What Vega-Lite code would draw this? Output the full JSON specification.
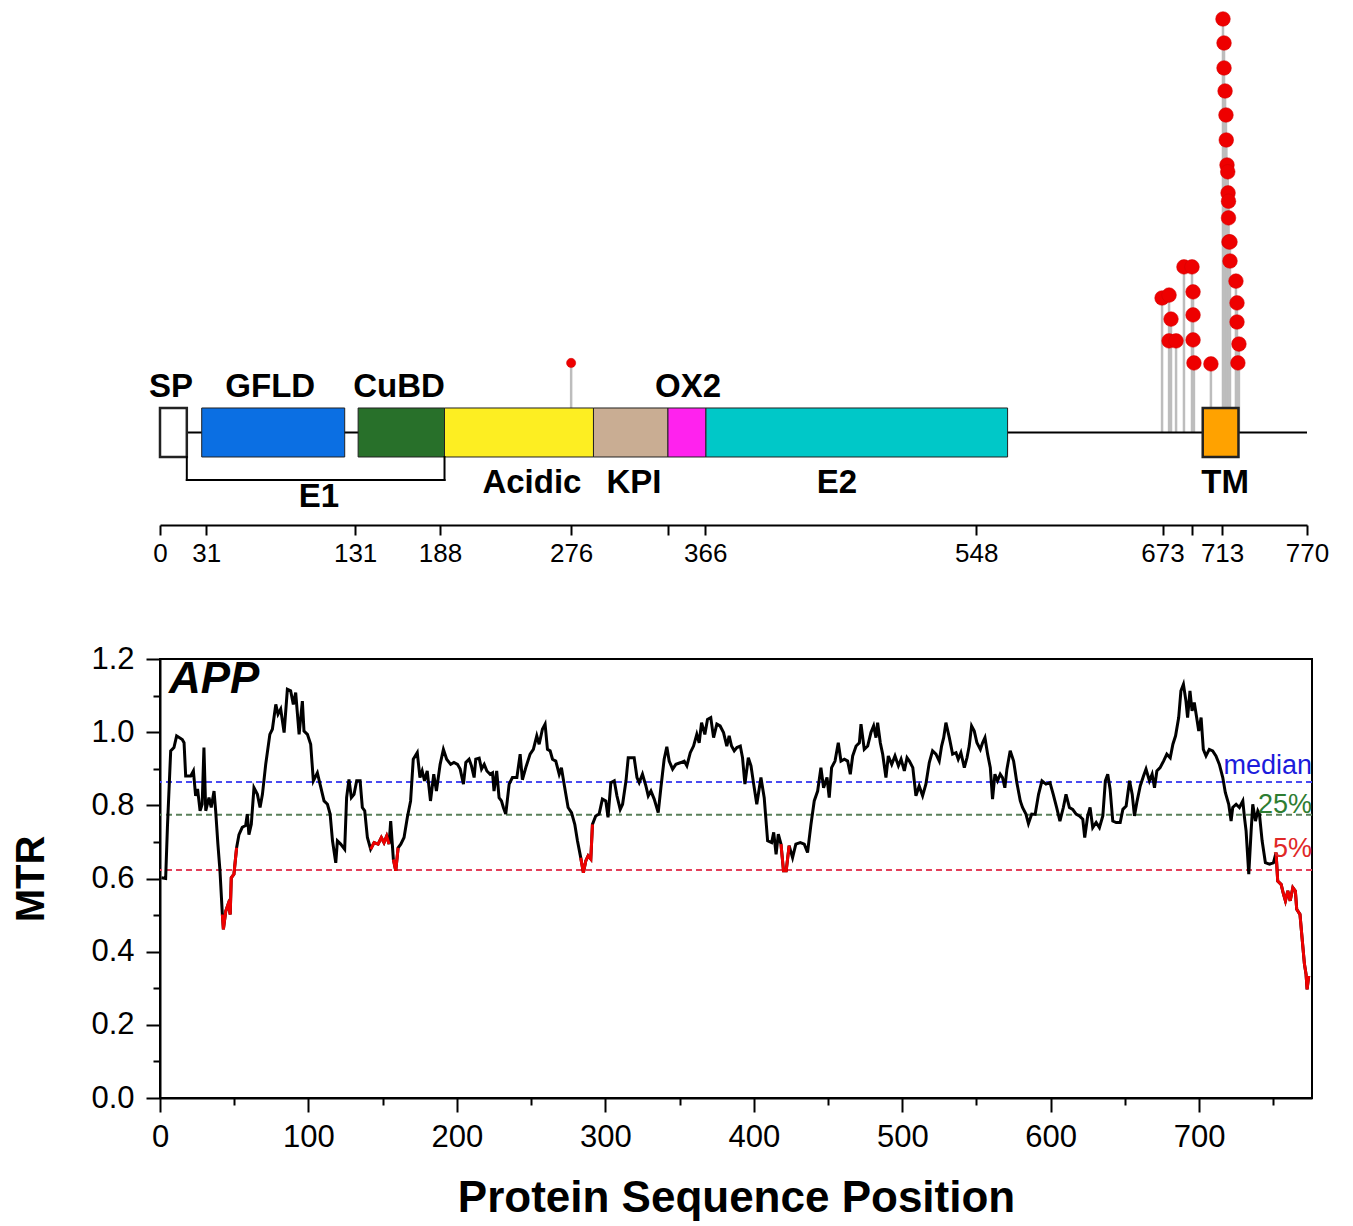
{
  "$schema": "https://vega.github.io/schema/vega-lite/v6.json",
  "background": "white",
  "padding": {"left": 10, "top": 5, "right": 5, "bottom": 5},
  "spacing": 76,
  "config": {
    "font": "Liberation Sans",
    "view": {"stroke": null},
    "axis": {"labelFont": "Liberation Sans", "titleFont": "Liberation Sans", "labelColor": "black", "titleColor": "black", "domainColor": "black", "tickColor": "black", "grid": false}
  },
  "datasets": {
    "domains": [
      {"name": "chain", "kind": "chain", "start": 0, "end": 770},
      {"name": "SP", "kind": "box", "start": 0, "end": 18, "lx": 7.4, "side": "above"},
      {"name": "GFLD", "kind": "box", "start": 28, "end": 124, "lx": 74, "side": "above"},
      {"name": "CuBD", "kind": "box", "start": 133, "end": 191, "lx": 160.5, "side": "above"},
      {"name": "Acidic", "kind": "box", "start": 191, "end": 291, "lx": 249.7, "side": "below"},
      {"name": "KPI", "kind": "box", "start": 291, "end": 341, "lx": 318.2, "side": "below"},
      {"name": "OX2", "kind": "box", "start": 341, "end": 366.5, "lx": 354.5, "side": "above"},
      {"name": "E2", "kind": "box", "start": 366.5, "end": 569, "lx": 454.5, "side": "below"},
      {"name": "TM", "kind": "box", "start": 700, "end": 724, "lx": 715, "side": "below"},
      {"name": "E1", "kind": "bracket", "start": 18, "end": 191, "lx": 106.7, "side": "bracket"}
    ],
    "variants": [
      {"pos": 276, "n": 1.0, "g": "a"},
      {"pos": 672.7, "n": 3.65, "g": "b"},
      {"pos": 677.4, "n": 3.77, "g": "b"},
      {"pos": 678.7, "n": 2.79, "g": "b"},
      {"pos": 677.4, "n": 1.9, "g": "b"},
      {"pos": 682.1, "n": 1.9, "g": "b"},
      {"pos": 687.4, "n": 4.92, "g": "b"},
      {"pos": 692.8, "n": 4.92, "g": "b"},
      {"pos": 693.5, "n": 3.9, "g": "b"},
      {"pos": 693.5, "n": 2.96, "g": "b"},
      {"pos": 693.5, "n": 1.94, "g": "b"},
      {"pos": 694.1, "n": 1.0, "g": "b"},
      {"pos": 705.5, "n": 0.96, "g": "b"},
      {"pos": 713.6, "n": 15.04, "g": "b"},
      {"pos": 714.3, "n": 14.06, "g": "b"},
      {"pos": 714.3, "n": 13.04, "g": "b"},
      {"pos": 715, "n": 12.1, "g": "b"},
      {"pos": 715.6, "n": 11.12, "g": "b"},
      {"pos": 715.8, "n": 10.1, "g": "b"},
      {"pos": 716.3, "n": 9.08, "g": "b"},
      {"pos": 716.8, "n": 8.8, "g": "b"},
      {"pos": 717, "n": 7.94, "g": "b"},
      {"pos": 717.3, "n": 7.6, "g": "b"},
      {"pos": 717.3, "n": 6.92, "g": "b"},
      {"pos": 717.6, "n": 5.94, "g": "b"},
      {"pos": 718.3, "n": 5.94, "g": "b"},
      {"pos": 718.3, "n": 5.16, "g": "b"},
      {"pos": 722.3, "n": 4.34, "g": "b"},
      {"pos": 723, "n": 3.45, "g": "b"},
      {"pos": 723, "n": 2.67, "g": "b"},
      {"pos": 724.3, "n": 1.77, "g": "b"},
      {"pos": 723.6, "n": 1.0, "g": "b"}
    ],
    "thresholds": [
      {"label": "median", "v": 0.864},
      {"label": "25%", "v": 0.774},
      {"label": "5%", "v": 0.623}
    ],
    "gene": [{"gene": "APP"}],
    "mtr": [
      {"p":1,"m":0.602,"s":0},{"p":3.8,"m":0.6,"s":0},{"p":5,"m":0.74,"s":0},{"p":7.2,"m":0.949,"s":0},{"p":9.4,"m":0.958,"s":0},{"p":11.2,"m":0.99,"s":0},{"p":15,"m":0.98,"s":0},{"p":16.2,"m":0.971,"s":0},{"p":17.3,"m":0.88,"s":0},{"p":20.7,"m":0.88,"s":0},{"p":22.5,"m":0.894,"s":0},{"p":24,"m":0.826,"s":0},{"p":25.3,"m":0.845,"s":0},{"p":27,"m":0.785,"s":0},{"p":28.4,"m":0.803,"s":0},{"p":29.6,"m":0.958,"s":0},{"p":30.8,"m":0.785,"s":0},{"p":33,"m":0.821,"s":0},{"p":34.5,"m":0.794,"s":0},{"p":36.4,"m":0.839,"s":0},{"p":37.5,"m":0.785,"s":0},{"p":39,"m":0.694,"s":0},{"p":40.4,"m":0.621,"s":0},
      {"p":42,"m":0.502,"s":1},{"p":42.7,"m":0.461,"s":1},{"p":44.3,"m":0.511,"s":1},{"p":45.9,"m":0.53,"s":1},{"p":47.3,"m":0.502,"s":1},{"p":48,"m":0.602,"s":1},{"p":49.8,"m":0.612,"s":1},{"p":51.6,"m":0.684,"s":1},
      {"p":53.2,"m":0.72,"s":0},{"p":55.4,"m":0.74,"s":0},{"p":57.7,"m":0.745,"s":0},{"p":58.8,"m":0.776,"s":0},{"p":59.9,"m":0.72,"s":0},{"p":61.5,"m":0.748,"s":0},{"p":63.3,"m":0.848,"s":0},{"p":65.6,"m":0.83,"s":0},{"p":67.4,"m":0.794,"s":0},{"p":69,"m":0.83,"s":0},{"p":71.2,"m":0.912,"s":0},{"p":74,"m":0.994,"s":0},{"p":75.7,"m":1.008,"s":0},{"p":78,"m":1.076,"s":0},{"p":79.5,"m":1.049,"s":0},{"p":81.3,"m":1.063,"s":0},{"p":83.6,"m":0.999,"s":0},{"p":85.8,"m":1.117,"s":0},{"p":88,"m":1.113,"s":0},{"p":89.8,"m":1.076,"s":0},{"p":91.4,"m":1.108,"s":0},{"p":93.7,"m":0.994,"s":0},{"p":95.9,"m":1.085,"s":0},{"p":97,"m":1.003,"s":0},{"p":99.3,"m":0.994,"s":0},{"p":101.5,"m":0.967,"s":0},{"p":103.3,"m":0.867,"s":0},{"p":106,"m":0.889,"s":0},{"p":107.8,"m":0.858,"s":0},{"p":110.5,"m":0.812,"s":0},{"p":112.8,"m":0.803,"s":0},{"p":114.6,"m":0.776,"s":0},{"p":116.2,"m":0.703,"s":0},{"p":118.4,"m":0.643,"s":0},{"p":119.5,"m":0.703,"s":0},{"p":121.7,"m":0.694,"s":0},{"p":124.4,"m":0.68,"s":0},{"p":125.7,"m":0.821,"s":0},{"p":127.3,"m":0.871,"s":0},{"p":128.9,"m":0.821,"s":0},{"p":130.7,"m":0.83,"s":0},{"p":132.5,"m":0.867,"s":0},{"p":134.8,"m":0.867,"s":0},{"p":136.3,"m":0.794,"s":0},{"p":137.9,"m":0.785,"s":0},{"p":139.7,"m":0.712,"s":0},
      {"p":141.9,"m":0.68,"s":2},{"p":144.2,"m":0.698,"s":2},{"p":146.9,"m":0.694,"s":2},{"p":149.1,"m":0.712,"s":2},{"p":150.9,"m":0.698,"s":2},{"p":152.7,"m":0.716,"s":2},{"p":154.3,"m":0.694,"s":2},
      {"p":155.4,"m":0.757,"s":0},
      {"p":157.2,"m":0.652,"s":3},{"p":158.8,"m":0.621,"s":3},{"p":160.4,"m":0.684,"s":3},
      {"p":162.2,"m":0.694,"s":0},{"p":164.4,"m":0.712,"s":0},{"p":166.6,"m":0.767,"s":0},{"p":168.8,"m":0.812,"s":0},{"p":170.6,"m":0.926,"s":0},{"p":173.3,"m":0.944,"s":0},{"p":175.1,"m":0.876,"s":0},{"p":176.6,"m":0.894,"s":0},{"p":178.2,"m":0.867,"s":0},{"p":180,"m":0.894,"s":0},{"p":182.2,"m":0.812,"s":0},{"p":184.4,"m":0.885,"s":0},{"p":186.2,"m":0.839,"s":0},{"p":188.7,"m":0.912,"s":0},{"p":190.9,"m":0.953,"s":0},{"p":193.1,"m":0.926,"s":0},{"p":195.8,"m":0.912,"s":0},{"p":198,"m":0.917,"s":0},{"p":200.4,"m":0.912,"s":0},{"p":202.2,"m":0.899,"s":0},{"p":204.4,"m":0.858,"s":0},{"p":206,"m":0.917,"s":0},{"p":208.2,"m":0.926,"s":0},{"p":209.8,"m":0.908,"s":0},{"p":211.6,"m":0.876,"s":0},{"p":212.7,"m":0.926,"s":0},{"p":215,"m":0.929,"s":0},{"p":216.6,"m":0.899,"s":0},{"p":218.4,"m":0.912,"s":0},{"p":220.2,"m":0.894,"s":0},{"p":222.4,"m":0.885,"s":0},{"p":224,"m":0.889,"s":0},{"p":225,"m":0.839,"s":0},{"p":226.8,"m":0.894,"s":0},{"p":228.4,"m":0.821,"s":0},{"p":230,"m":0.812,"s":0},{"p":231.3,"m":0.794,"s":0},{"p":232.9,"m":0.776,"s":0},{"p":235.2,"m":0.858,"s":0},{"p":237.4,"m":0.876,"s":0},{"p":240.4,"m":0.876,"s":0},{"p":242.6,"m":0.94,"s":0},{"p":244.1,"m":0.87,"s":0},{"p":246.4,"m":0.903,"s":0},{"p":249.3,"m":0.94,"s":0},{"p":251.5,"m":0.953,"s":0},{"p":253.8,"m":0.99,"s":0},{"p":255.4,"m":0.967,"s":0},{"p":257.6,"m":1.008,"s":0},{"p":259.4,"m":1.022,"s":0},{"p":261,"m":0.953,"s":0},{"p":262.8,"m":0.949,"s":0},{"p":264.4,"m":0.926,"s":0},{"p":266.6,"m":0.921,"s":0},{"p":268.9,"m":0.885,"s":0},{"p":270.4,"m":0.903,"s":0},{"p":272.2,"m":0.858,"s":0},{"p":274.9,"m":0.794,"s":0},{"p":277.2,"m":0.78,"s":0},{"p":279.4,"m":0.748,"s":0},{"p":281.2,"m":0.703,"s":0},
      {"p":283.4,"m":0.657,"s":4},{"p":285.2,"m":0.616,"s":4},{"p":286.8,"m":0.648,"s":4},{"p":288.4,"m":0.662,"s":4},{"p":290.2,"m":0.653,"s":4},{"p":291.3,"m":0.748,"s":4},
      {"p":293.5,"m":0.771,"s":0},{"p":295.8,"m":0.776,"s":0},{"p":298,"m":0.817,"s":0},{"p":300.3,"m":0.812,"s":0},{"p":301.8,"m":0.767,"s":0},{"p":303.7,"m":0.862,"s":0},{"p":306,"m":0.867,"s":0},{"p":307.8,"m":0.826,"s":0},{"p":310,"m":0.789,"s":0},{"p":311.6,"m":0.803,"s":0},{"p":313.9,"m":0.867,"s":0},{"p":315.4,"m":0.93,"s":0},{"p":319.4,"m":0.93,"s":0},{"p":321.3,"m":0.876,"s":0},{"p":322.8,"m":0.862,"s":0},{"p":325,"m":0.885,"s":0},{"p":327.3,"m":0.853,"s":0},{"p":328.9,"m":0.826,"s":0},{"p":330.7,"m":0.839,"s":0},{"p":332.9,"m":0.817,"s":0},{"p":335.6,"m":0.78,"s":0},{"p":337.4,"m":0.848,"s":0},{"p":339.6,"m":0.926,"s":0},{"p":341.4,"m":0.96,"s":0},{"p":343,"m":0.921,"s":0},{"p":345.3,"m":0.899,"s":0},{"p":347.5,"m":0.912,"s":0},{"p":350.9,"m":0.917,"s":0},{"p":353.1,"m":0.921,"s":0},{"p":354.9,"m":0.908,"s":0},{"p":357.2,"m":0.944,"s":0},{"p":359.4,"m":0.962,"s":0},{"p":361.6,"m":0.994,"s":0},{"p":363.2,"m":0.971,"s":0},{"p":364.8,"m":1.026,"s":0},{"p":367,"m":0.994,"s":0},{"p":368.8,"m":1.035,"s":0},{"p":371,"m":1.04,"s":0},{"p":372.9,"m":0.985,"s":0},{"p":375.1,"m":1.022,"s":0},{"p":377.3,"m":1.017,"s":0},{"p":379.6,"m":0.999,"s":0},{"p":381.8,"m":0.962,"s":0},{"p":383.4,"m":0.99,"s":0},{"p":385,"m":0.962,"s":0},{"p":386.8,"m":0.949,"s":0},{"p":388.6,"m":0.958,"s":0},{"p":390.9,"m":0.962,"s":0},{"p":392.4,"m":0.93,"s":0},{"p":394,"m":0.858,"s":0},{"p":396.3,"m":0.93,"s":0},{"p":398.1,"m":0.908,"s":0},{"p":399.9,"m":0.858,"s":0},{"p":402,"m":0.803,"s":0},{"p":404.8,"m":0.876,"s":0},{"p":407,"m":0.821,"s":0},{"p":409.3,"m":0.703,"s":0},{"p":412,"m":0.698,"s":0},{"p":413.4,"m":0.726,"s":0},{"p":415,"m":0.666,"s":0},{"p":416.5,"m":0.721,"s":0},
      {"p":418.3,"m":0.694,"s":5},{"p":420,"m":0.621,"s":5},{"p":421.8,"m":0.621,"s":5},{"p":423.8,"m":0.69,"s":5},
      {"p":426.1,"m":0.657,"s":0},{"p":428.3,"m":0.694,"s":0},{"p":431.3,"m":0.698,"s":0},{"p":434,"m":0.694,"s":0},{"p":436.2,"m":0.671,"s":0},{"p":438.5,"m":0.748,"s":0},{"p":440.7,"m":0.812,"s":0},{"p":443,"m":0.839,"s":0},{"p":445.2,"m":0.903,"s":0},{"p":447,"m":0.848,"s":0},{"p":449.3,"m":0.876,"s":0},{"p":450.8,"m":0.821,"s":0},{"p":452.4,"m":0.903,"s":0},{"p":454.7,"m":0.921,"s":0},{"p":456.9,"m":0.971,"s":0},{"p":458.7,"m":0.921,"s":0},{"p":461,"m":0.926,"s":0},{"p":463.2,"m":0.921,"s":0},{"p":465,"m":0.885,"s":0},{"p":466.6,"m":0.935,"s":0},{"p":468.9,"m":0.962,"s":0},{"p":471.1,"m":0.971,"s":0},{"p":472.2,"m":1.022,"s":0},{"p":474.4,"m":0.953,"s":0},{"p":476.7,"m":0.962,"s":0},{"p":478.9,"m":0.999,"s":0},{"p":480.7,"m":1.017,"s":0},{"p":482.3,"m":0.985,"s":0},{"p":483.4,"m":1.026,"s":0},{"p":485.2,"m":0.971,"s":0},{"p":486.8,"m":0.94,"s":0},{"p":489,"m":0.876,"s":0},{"p":490.6,"m":0.935,"s":0},{"p":492.9,"m":0.912,"s":0},{"p":495.1,"m":0.935,"s":0},{"p":497.4,"m":0.908,"s":0},{"p":499.2,"m":0.926,"s":0},{"p":501.4,"m":0.894,"s":0},{"p":503.2,"m":0.93,"s":0},{"p":504.8,"m":0.921,"s":0},{"p":507.1,"m":0.903,"s":0},{"p":509.2,"m":0.826,"s":0},{"p":511.4,"m":0.853,"s":0},{"p":513.7,"m":0.826,"s":0},{"p":515.9,"m":0.858,"s":0},{"p":518.2,"m":0.917,"s":0},{"p":520.4,"m":0.949,"s":0},{"p":522.7,"m":0.94,"s":0},{"p":524.9,"m":0.921,"s":0},{"p":526.5,"m":0.962,"s":0},{"p":527.9,"m":0.985,"s":0},{"p":529.4,"m":1.026,"s":0},{"p":531.7,"m":0.985,"s":0},{"p":533.9,"m":0.94,"s":0},{"p":536.2,"m":0.944,"s":0},{"p":537.7,"m":0.926,"s":0},{"p":539.5,"m":0.944,"s":0},{"p":541.8,"m":0.903,"s":0},{"p":543.6,"m":0.93,"s":0},{"p":545.1,"m":0.962,"s":0},{"p":546.7,"m":1.017,"s":0},{"p":548.5,"m":1.003,"s":0},{"p":550.3,"m":0.971,"s":0},{"p":552.6,"m":0.953,"s":0},{"p":554.1,"m":0.971,"s":0},{"p":555.7,"m":0.985,"s":0},{"p":557.5,"m":0.94,"s":0},{"p":559.3,"m":0.903,"s":0},{"p":560.8,"m":0.817,"s":0},{"p":562.4,"m":0.885,"s":0},{"p":564.2,"m":0.867,"s":0},{"p":566,"m":0.885,"s":0},{"p":567.5,"m":0.876,"s":0},{"p":569.1,"m":0.848,"s":0},{"p":570.5,"m":0.899,"s":0},{"p":572.7,"m":0.949,"s":0},{"p":575,"m":0.921,"s":0},{"p":577.2,"m":0.862,"s":0},{"p":579.5,"m":0.812,"s":0},{"p":581,"m":0.794,"s":0},{"p":583.3,"m":0.776,"s":0},{"p":585,"m":0.75,"s":0},{"p":587.2,"m":0.776,"s":0},{"p":589.5,"m":0.775,"s":0},{"p":591.8,"m":0.83,"s":0},{"p":594.1,"m":0.867,"s":0},{"p":596.8,"m":0.858,"s":0},{"p":599.5,"m":0.862,"s":0},{"p":601.7,"m":0.83,"s":0},{"p":604,"m":0.794,"s":0},{"p":606.2,"m":0.757,"s":0},{"p":608.5,"m":0.794,"s":0},{"p":610.3,"m":0.83,"s":0},{"p":612.6,"m":0.794,"s":0},{"p":614.8,"m":0.789,"s":0},{"p":617.1,"m":0.776,"s":0},{"p":619.3,"m":0.771,"s":0},{"p":621.6,"m":0.762,"s":0},{"p":622.9,"m":0.712,"s":0},{"p":624.9,"m":0.771,"s":0},{"p":626.5,"m":0.794,"s":0},{"p":628.3,"m":0.739,"s":0},{"p":630.6,"m":0.753,"s":0},{"p":632.8,"m":0.739,"s":0},{"p":635.1,"m":0.771,"s":0},{"p":636.8,"m":0.867,"s":0},{"p":638.4,"m":0.885,"s":0},{"p":640,"m":0.844,"s":0},{"p":641.8,"m":0.757,"s":0},{"p":644.1,"m":0.753,"s":0},{"p":646.8,"m":0.753,"s":0},{"p":648.6,"m":0.789,"s":0},{"p":650.8,"m":0.798,"s":0},{"p":653.1,"m":0.867,"s":0},{"p":654.9,"m":0.83,"s":0},{"p":656.4,"m":0.771,"s":0},{"p":658,"m":0.808,"s":0},{"p":660.3,"m":0.853,"s":0},{"p":662.5,"m":0.88,"s":0},{"p":664.2,"m":0.899,"s":0},{"p":666.5,"m":0.867,"s":0},{"p":668.3,"m":0.885,"s":0},{"p":669.9,"m":0.848,"s":0},{"p":671.5,"m":0.894,"s":0},{"p":673.7,"m":0.903,"s":0},{"p":676,"m":0.921,"s":0},{"p":678.2,"m":0.94,"s":0},{"p":680.5,"m":0.93,"s":0},{"p":682.3,"m":0.967,"s":0},{"p":684.1,"m":0.99,"s":0},{"p":686.2,"m":1.04,"s":0},{"p":687.7,"m":1.113,"s":0},{"p":689.4,"m":1.131,"s":0},{"p":691.1,"m":1.085,"s":0},{"p":692.2,"m":1.04,"s":0},{"p":693.8,"m":1.113,"s":0},{"p":695.2,"m":1.058,"s":0},{"p":696.7,"m":1.081,"s":0},{"p":698.3,"m":1.04,"s":0},{"p":699.7,"m":1.003,"s":0},{"p":701.3,"m":1.04,"s":0},{"p":702.8,"m":0.953,"s":0},{"p":704.6,"m":0.935,"s":0},{"p":706.8,"m":0.953,"s":0},{"p":709.1,"m":0.949,"s":0},{"p":711.3,"m":0.935,"s":0},{"p":713.6,"m":0.912,"s":0},{"p":715.9,"m":0.876,"s":0},{"p":717.6,"m":0.835,"s":0},{"p":719.9,"m":0.803,"s":0},{"p":721.5,"m":0.757,"s":0},{"p":722.6,"m":0.794,"s":0},{"p":724.9,"m":0.803,"s":0},{"p":727.1,"m":0.794,"s":0},{"p":729.4,"m":0.812,"s":0},{"p":730.5,"m":0.767,"s":0},{"p":731.6,"m":0.73,"s":0},{"p":733.4,"m":0.612,"s":0},{"p":735,"m":0.73,"s":0},{"p":736.1,"m":0.803,"s":0},{"p":737.9,"m":0.757,"s":0},{"p":739.5,"m":0.785,"s":0},{"p":740.6,"m":0.776,"s":0},{"p":742.4,"m":0.703,"s":0},{"p":744.6,"m":0.643,"s":0},{"p":747.3,"m":0.639,"s":0},{"p":750,"m":0.643,"s":0},
      {"p":751.8,"m":0.671,"s":6},{"p":752.9,"m":0.593,"s":6},{"p":755.2,"m":0.584,"s":6},{"p":756.8,"m":0.557,"s":6},{"p":758.1,"m":0.539,"s":6},{"p":759.7,"m":0.566,"s":6},{"p":761.3,"m":0.539,"s":6},{"p":763.1,"m":0.575,"s":6},{"p":764.8,"m":0.566,"s":6},{"p":765.7,"m":0.516,"s":6},{"p":767.9,"m":0.502,"s":6},{"p":769.3,"m":0.438,"s":6},{"p":770.9,"m":0.366,"s":6},{"p":772,"m":0.338,"s":6},{"p":772.7,"m":0.297,"s":6},{"p":773.8,"m":0.334,"s":6}
    ]
  },
  "vconcat": [
    {
      "width": 1147,
      "height": 520,
      "view": {"stroke": null},
      "layer": [
        {
          "data": {"name": "variants"},
          "transform": [{"aggregate": [{"op": "max", "field": "n", "as": "top"}], "groupby": ["pos"]}],
          "mark": {"type": "rule", "color": "#bdbdbd", "strokeWidth": 2.5},
          "encoding": {
            "x": {"field": "pos", "type": "quantitative", "scale": {"domain": [0, 770], "nice": false, "zero": false},
              "axis": {"orient": "bottom", "values": [0, 31, 131, 188, 276, 341, 366, 548, 673, 693, 713, 770], "format": "d",
                "labelExpr": "datum.value == 341 || datum.value == 693 ? '' : datum.label",
                "title": null, "grid": false, "domainWidth": 2, "tickWidth": 2, "tickSize": 10,
                "labelFontSize": 26, "labelPadding": 5, "labelFlush": false, "labelOverlap": false, "labelBound": false}},
            "y": {"field": "top", "type": "quantitative", "scale": {"domain": [-5.616, 15.61], "nice": false, "zero": false}, "axis": null},
            "y2": {"datum": -1.84}
          }
        },
        {
          "data": {"name": "domains"},
          "transform": [{"filter": "datum.kind == 'chain'"}],
          "mark": {"type": "rule", "color": "black", "strokeWidth": 2},
          "encoding": {
            "x": {"field": "start", "type": "quantitative"},
            "x2": {"field": "end"},
            "y": {"datum": -1.84, "type": "quantitative"}
          }
        },
        {
          "data": {"name": "domains"},
          "transform": [{"filter": "datum.kind == 'box'"}],
          "mark": {"type": "rect", "stroke": "#222222"},
          "encoding": {
            "x": {"field": "start", "type": "quantitative"},
            "x2": {"field": "end"},
            "y": {"datum": -0.84, "type": "quantitative"},
            "y2": {"datum": -2.84},
            "fill": {"field": "name", "type": "nominal", "legend": null,
              "scale": {"domain": ["SP", "GFLD", "CuBD", "Acidic", "KPI", "OX2", "E2", "TM"],
                "range": ["#ffffff", "#0b6fe3", "#28702a", "#fdee22", "#c9ad93", "#ff22ee", "#00c8c8", "#ffa200"]}},
            "strokeWidth": {"condition": {"test": "datum.name == 'SP' || datum.name == 'TM'", "value": 2.5}, "value": 1}
          }
        },
        {
          "data": {"name": "domains"},
          "transform": [{"filter": "datum.kind == 'bracket'"}],
          "layer": [
            {"mark": {"type": "rule", "color": "black", "strokeWidth": 2, "strokeCap": "square"},
              "encoding": {"x": {"field": "start", "type": "quantitative"}, "y": {"datum": -2.84, "type": "quantitative"}, "y2": {"datum": -3.78}}},
            {"mark": {"type": "rule", "color": "black", "strokeWidth": 2, "strokeCap": "square"},
              "encoding": {"x": {"field": "end", "type": "quantitative"}, "y": {"datum": -2.84, "type": "quantitative"}, "y2": {"datum": -3.78}}},
            {"mark": {"type": "rule", "color": "black", "strokeWidth": 2, "strokeCap": "square"},
              "encoding": {"x": {"field": "start", "type": "quantitative"}, "x2": {"field": "end"}, "y": {"datum": -3.78, "type": "quantitative"}}}
          ]
        },
        {
          "data": {"name": "variants"},
          "mark": {"type": "point", "filled": true, "shape": "circle", "fill": "#ee0000", "stroke": "#d00000", "strokeWidth": 0.5, "opacity": 1},
          "encoding": {
            "x": {"field": "pos", "type": "quantitative"},
            "y": {"field": "n", "type": "quantitative"},
            "size": {"field": "g", "type": "nominal", "legend": null, "scale": {"domain": ["a", "b"], "range": [85, 215]}}
          }
        },
        {
          "data": {"name": "domains"},
          "transform": [
            {"filter": "datum.kind != 'chain'"},
            {"calculate": "datum.side == 'above' ? 0 : (datum.side == 'below' ? -3.9 : -4.47)", "as": "ly"}
          ],
          "mark": {"type": "text", "fontSize": 33, "fontWeight": "bold", "color": "black", "align": "center", "baseline": "middle"},
          "encoding": {
            "x": {"field": "lx", "type": "quantitative"},
            "y": {"field": "ly", "type": "quantitative"},
            "text": {"field": "name"}
          }
        }
      ]
    },
    {
      "width": 1152,
      "height": 439,
      "view": {"stroke": "black", "strokeWidth": 2},
      "resolve": {"axis": {"x": "independent", "y": "independent"}},
      "layer": [
        {
          "data": {"name": "thresholds"},
          "mark": {"type": "rule", "strokeDash": [6, 4], "strokeWidth": 2},
          "encoding": {
            "y": {"field": "v", "type": "quantitative", "scale": {"domain": [0, 1.2], "nice": false, "zero": false},
              "axis": {"orient": "left", "values": [0.1, 0.3, 0.5, 0.7, 0.9, 1.1], "labels": false, "domain": false, "ticks": true, "tickSize": 7, "tickWidth": 2, "title": null, "grid": false}},
            "stroke": {"field": "label", "type": "nominal", "legend": null,
              "scale": {"domain": ["median", "25%", "5%"], "range": ["#4a4af0", "#5a805a", "#e4405a"]}}
          }
        },
        {
          "data": {"name": "mtr"},
          "mark": {"type": "line", "color": "black", "strokeWidth": 3},
          "encoding": {
            "x": {"field": "p", "type": "quantitative", "scale": {"domain": [0, 776], "nice": false, "zero": false},
              "axis": {"orient": "bottom", "values": [0, 100, 200, 300, 400, 500, 600, 700], "format": "d", "title": "Protein Sequence Position",
                "titleFontSize": 44, "titleFontWeight": "bold", "titlePadding": 24, "domainWidth": 2, "tickWidth": 2, "tickSize": 14,
                "labelFontSize": 31, "labelPadding": 10, "labelFlush": false, "labelOverlap": false, "grid": false}},
            "y": {"field": "m", "type": "quantitative", "scale": {"domain": [0, 1.2], "nice": false, "zero": false},
              "axis": {"orient": "left", "values": [0, 0.2, 0.4, 0.6, 0.8, 1.0, 1.2], "format": ".1f", "title": "MTR",
                "titleFontSize": 40, "titleFontWeight": "bold", "titlePadding": 39, "domainWidth": 2, "tickWidth": 2, "tickSize": 14,
                "labelFontSize": 31, "labelPadding": 12, "labelOverlap": false, "grid": false}}
          }
        },
        {
          "data": {"name": "mtr"},
          "transform": [{"filter": "datum.s > 0"}],
          "mark": {"type": "line", "color": "#ee0000", "strokeWidth": 3},
          "encoding": {
            "x": {"field": "p", "type": "quantitative",
              "axis": {"orient": "bottom", "values": [50, 150, 250, 350, 450, 550, 650, 750], "labels": false, "domain": false, "tickSize": 7, "tickWidth": 2, "title": null, "grid": false}},
            "y": {"field": "m", "type": "quantitative", "axis": null},
            "detail": {"field": "s", "type": "nominal"}
          }
        },
        {
          "data": {"name": "thresholds"},
          "transform": [{"filter": "datum.label == 'median'"}],
          "mark": {"type": "text", "align": "right", "baseline": "alphabetic", "dy": -8, "fontSize": 27, "color": "#1c1cdc"},
          "encoding": {
            "x": {"datum": 776, "type": "quantitative", "axis": null},
            "y": {"field": "v", "type": "quantitative", "axis": null},
            "text": {"field": "label"}
          }
        },
        {
          "data": {"name": "thresholds"},
          "transform": [{"filter": "datum.label == '25%'"}],
          "mark": {"type": "text", "align": "right", "baseline": "alphabetic", "dy": -2, "fontSize": 27, "color": "#2e7d32"},
          "encoding": {
            "x": {"datum": 776, "type": "quantitative", "axis": null},
            "y": {"field": "v", "type": "quantitative", "axis": null},
            "text": {"field": "label"}
          }
        },
        {
          "data": {"name": "thresholds"},
          "transform": [{"filter": "datum.label == '5%'"}],
          "mark": {"type": "text", "align": "right", "baseline": "alphabetic", "dy": -13, "fontSize": 27, "color": "#e02828"},
          "encoding": {
            "x": {"datum": 776, "type": "quantitative", "axis": null},
            "y": {"field": "v", "type": "quantitative", "axis": null},
            "text": {"field": "label"}
          }
        },
        {
          "data": {"name": "gene"},
          "mark": {"type": "text", "align": "left", "baseline": "middle", "fontSize": 44, "fontWeight": "bold", "fontStyle": "italic", "color": "black"},
          "encoding": {
            "x": {"datum": 6, "type": "quantitative", "axis": null},
            "y": {"datum": 1.143, "type": "quantitative", "axis": null},
            "text": {"field": "gene"}
          }
        }
      ]
    }
  ]
}
